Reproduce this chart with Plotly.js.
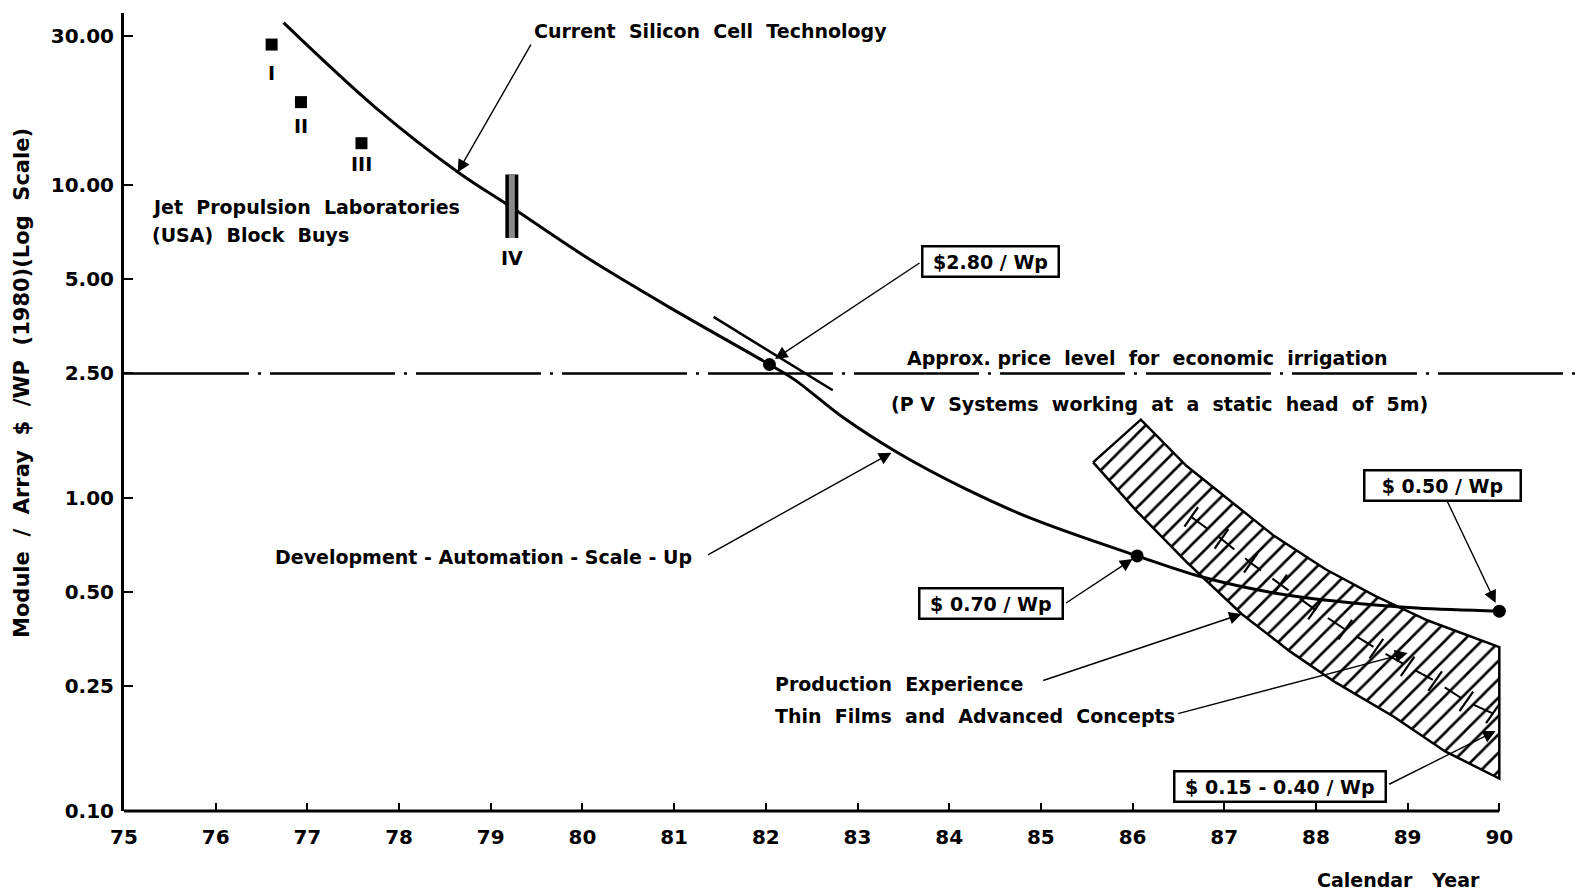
<!DOCTYPE html>
<html>
<head>
<meta charset="utf-8">
<script src="https://cdn.plot.ly/plotly-3.0.1.min.js"></script>
<style>html,body{margin:0;padding:0;background:#fff;}#chart{width:1588px;height:893px;}</style>
</head>
<body>
<div id="chart"></div>
<script>
// ---------------- data ----------------
const yearTicks = [75, 76, 77, 78, 79, 80, 81, 82, 83, 84, 85, 86, 87, 88, 89, 90];
const priceTickVals = [0.1, 0.25, 0.5, 1, 2.5, 5, 10, 30];
const priceTickText = ['0.10', '0.25', '0.50', '1.00', '2.50', '5.00', '10.00', '30.00'];

// Current silicon cell technology curve
const siliconYears = [76.74, 77.74, 78.64, 79.23, 80.06, 80.94, 82.04, 82.32, 82.84, 83.43, 84.19, 84.91, 86.05, 86.75, 87.5, 88.3, 89.1, 90];
const siliconPrice = [33.0, 17.7, 11.0, 8.47, 5.83, 4.08, 2.67, 2.38, 1.81, 1.40, 1.065, 0.857, 0.653, 0.56, 0.50, 0.465, 0.445, 0.435];

// milestone dots ($2.80, $0.70, $0.50 per Wp)
const milestoneYears = [82.04, 86.05, 90];
const milestonePrice = [2.67, 0.653, 0.435];

// JPL block buys I-III and block IV (range)
const jplYears = [76.61, 76.93, 77.59];
const jplPrice = [28.1, 18.4, 13.6];
const jplLabels = ['I', 'II', 'III'];
const block4Year = [79.23, 79.23];
const block4Price = [10.8, 6.77];

// crossing line at the $2.80 point
const tangentYears = [81.43, 82.73];
const tangentPrice = [3.79, 2.21];

// economic irrigation level
const irrigationYears = [75, 90.88];
const irrigationPrice = [2.5, 2.5];

// thin films band
const bandUpperYears = [86.09, 86.59, 87.05, 87.53, 88.10, 88.65, 89.22, 90];
const bandUpperPrice = [1.78, 1.265, 0.985, 0.762, 0.593, 0.486, 0.406, 0.334];
const bandLowerYears = [85.57, 86.04, 86.59, 87.19, 87.72, 88.21, 88.85, 89.41, 90];
const bandLowerPrice = [1.30, 0.911, 0.624, 0.426, 0.323, 0.258, 0.20, 0.155, 0.127];
const bandMidYears = [86.64, 86.97, 87.29, 87.61, 87.99, 88.32, 88.66, 89.0, 89.30, 89.64, 89.93];
const bandMidPrice = [0.87, 0.74, 0.62, 0.53, 0.44, 0.38, 0.33, 0.29, 0.26, 0.224, 0.205];

// ---------------- drawing ----------------
const FONT = 'DejaVu Sans, Liberation Sans, sans-serif';
const L = Math.log10;

const bandX = [bandLowerYears[0]].concat(bandUpperYears, bandLowerYears.slice().reverse());
const bandY = [bandLowerPrice[0]].concat(bandUpperPrice, bandLowerPrice.slice().reverse());

const traces = [
  { // hatched band
    x: bandX, y: bandY, mode: 'lines', fill: 'toself', fillcolor: 'rgba(0,0,0,0)',
    fillpattern: {shape: '/', size: 13, solidity: 0.2, fgcolor: '#000', bgcolor: '#fff'},
    line: {color: '#000', width: 2.5}, hoverinfo: 'skip'
  },
  { // centre line of band
    x: bandMidYears, y: bandMidPrice, mode: 'lines+markers',
    line: {color: '#000', width: 2, dash: '20px,14px'},
    marker: {symbol: 'line-ns', size: 17, angle: 35, line: {color: '#000', width: 2.2}}
  },
  { // irrigation level
    x: irrigationYears, y: irrigationPrice, mode: 'lines',
    line: {color: '#000', width: 2.5, dash: '125px,9px,3px,9px'}
  },
  { // tangent crossing line
    x: tangentYears, y: tangentPrice, mode: 'lines',
    line: {color: '#000', width: 2.5}
  },
  { // silicon curve
    x: siliconYears, y: siliconPrice, mode: 'lines',
    line: {color: '#000', width: 3, shape: 'spline', smoothing: 1}
  },
  { // milestone dots
    x: milestoneYears, y: milestonePrice, mode: 'markers',
    marker: {color: '#000', size: 13}
  },
  { // JPL block buys
    x: jplYears, y: jplPrice, mode: 'markers',
    marker: {symbol: 'square', color: '#000', size: 12}
  },
  { // block IV outer
    x: block4Year, y: block4Price, mode: 'lines',
    line: {color: '#000', width: 13}
  },
  { // block IV inner
    x: block4Year, y: block4Price, mode: 'lines',
    line: {color: '#8a8a8a', width: 6}
  }
];

function txt(text, x, y, opts) {
  return Object.assign({
    text: text, xref: 'paper', yref: 'paper', x: x, y: y,
    xanchor: 'left', yanchor: 'middle', showarrow: false,
    font: {family: FONT, size: 19, color: '#000', weight: 'bold'}
  }, opts || {});
}
function box(text, x, y) {
  return txt(text, x, y, {xanchor: 'center', bordercolor: '#000', borderwidth: 2.5, borderpad: 3, bgcolor: '#fff'});
}
function arrow(xv, logv, ax, ay) {
  return {
    text: '', xref: 'x', yref: 'y', x: xv, y: logv, ax: ax, ay: ay,
    showarrow: true, arrowhead: 2, arrowsize: 1.8, arrowwidth: 1.4, arrowcolor: '#000', standoff: 0
  };
}

const annotations = [
  txt('Current  Silicon  Cell  Technology', 0.2802, 0.9774),
  txt('Jet  Propulsion  Laboratories', 0.0179, 0.7569),
  txt('(USA)  Block  Buys', 0.0179, 0.7218),
  txt('Approx. price  level  for  economic  irrigation', 0.7030, 0.5675, {xanchor: 'center'}),
  txt('(P V  Systems  working  at  a  static  head  of  5m)', 0.7115, 0.5100, {xanchor: 'center'}),
  txt('Development - Automation - Scale - Up', 0.1023, 0.3183),
  txt('Production  Experience', 0.4457, 0.1591),
  txt('Thin  Films  and  Advanced  Concepts', 0.4457, 0.1190),
  txt('Calendar   Year', 0.875, -0.0865, {xanchor: 'center'}),
  txt('Module  /  Array  $  /WP  (1980)(Log  Scale)', -0.0701, 0.5363,
      {xanchor: 'center', textangle: -90, font: {family: FONT, size: 21, color: '#000', weight: 'bold'}}),
  box('&nbsp;$2.80 / Wp&nbsp;', 0.5948, 0.6892),
  box('&nbsp;$ 0.70 / Wp&nbsp;', 0.5955, 0.2594),
  box('&nbsp;&nbsp;$ 0.50 / Wp&nbsp;&nbsp;', 0.9059, 0.4085),
  box('&nbsp;$ 0.15 - 0.40 / Wp&nbsp;', 0.794, 0.0301),
  arrow(78.64, 1.0409, 74, -129),
  arrow(82.10, 0.4441, 146, -97),
  arrow(83.37, 0.1447, -185, 103),
  arrow(86.00, -0.1949, -68, 45),
  arrow(89.96, -0.3355, -49, -103),
  arrow(bandLowerYears[3], L(bandLowerPrice[3]), -200, 67),
  arrow(89.0, -0.4952, -231, 61),
  arrow(89.96, -0.7444, -108, 54)
];
// roman numeral labels under the block buys
const labelShift = [-28, -24, -21];
jplLabels.forEach(function (t, i) {
  annotations.push({text: t, xref: 'x', yref: 'y', x: jplYears[i], y: L(jplPrice[i]), yshift: labelShift[i],
    showarrow: false, font: {family: FONT, size: 19, color: '#000', weight: 'bold'}});
});
annotations.push({text: 'IV', xref: 'x', yref: 'y', x: block4Year[1], y: L(block4Price[1]), yshift: -20,
  showarrow: false, font: {family: FONT, size: 19, color: '#000', weight: 'bold'}});

const layout = {
  width: 1588, height: 893,
  margin: {l: 124, r: 8, t: 13, b: 82},
  paper_bgcolor: '#fff', plot_bgcolor: '#fff',
  showlegend: false,
  xaxis: {
    range: [75, 90.88], tickvals: yearTicks, ticktext: yearTicks.map(String),
    ticks: 'inside', ticklen: 8, tickwidth: 2, tickcolor: '#000',
    showgrid: false, zeroline: false, showline: false,
    tickfont: {family: FONT, size: 20, color: '#000', weight: 'bold'}, ticklabelstandoff: 12
  },
  yaxis: {
    type: 'log', range: [-1, 1.5495], tickvals: priceTickVals, ticktext: priceTickText,
    ticks: 'inside', ticklen: 9, tickwidth: 2, tickcolor: '#000',
    showgrid: false, zeroline: false, showline: true, linewidth: 3, linecolor: '#000',
    tickfont: {family: FONT, size: 20, color: '#000', weight: 'bold'}, ticklabelstandoff: 3
  },
  shapes: [
    {type: 'line', xref: 'x', yref: 'paper', x0: 75, x1: 90, y0: 0, y1: 0, line: {color: '#000', width: 3}}
  ],
  annotations: annotations
};

Plotly.newPlot('chart', traces, layout, {displayModeBar: false, staticPlot: true});
</script>
</body>
</html>
